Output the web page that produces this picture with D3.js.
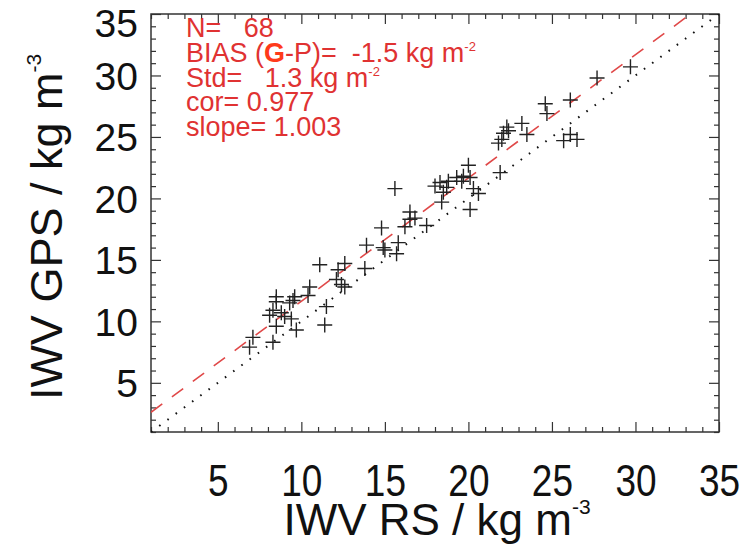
<!DOCTYPE html>
<html>
<head>
<meta charset="utf-8">
<script src="https://cdn.jsdelivr.net/npm/d3@7"></script>
<style>
  html, body { margin: 0; padding: 0; background: #fff; }
  svg { display: block; font-family: "Liberation Sans", Arial, Helvetica, sans-serif; }
</style>
</head>
<body>
<svg id="chart" width="747" height="552"></svg>
<script>
// IWV radiosonde (RS) vs GPS, kg m-3
const rsValues = [
  29.7, 27.7, 26.1, 24.6, 24.7, 23.2, 22.3, 22.1, 22.0, 21.8,
  23.5, 25.7, 26.5, 26.1, 21.9, 20.0, 20.1, 18.3, 18.8, 19.3,
  19.6, 20.1, 20.3, 18.5, 18.4, 20.6, 15.6, 16.5, 16.8, 17.5,
  16.2, 14.8, 14.9, 13.9, 15.8, 15.7, 15.0, 11.1, 12.6, 13.8,
  12.2, 12.1, 12.6, 10.5, 10.4, 8.5, 9.6, 9.5, 8.5, 11.5,
  8.3, 8.1, 9.0, 9.4, 8.5, 9.7, 11.4, 7.1, 6.9, 8.3,
  8.8, 9.3, 12.4, 19.7, 18.7, 22.4, 16.5, 18.0
];
const gpsValues = [
  30.7, 29.8, 28.0, 27.7, 26.9, 26.1, 25.8, 25.3, 24.8, 24.5,
  25.2, 24.7, 24.8, 25.2, 22.1, 22.7, 19.1, 21.3, 21.4, 21.7,
  21.4, 21.7, 20.8, 20.5, 19.7, 20.4, 20.8, 18.9, 18.4, 17.8,
  17.7, 17.6, 16.0, 16.2, 16.4, 15.5, 15.8, 14.6, 14.7, 14.3,
  14.2, 13.4, 12.8, 12.8, 12.1, 12.0, 12.0, 11.7, 11.6, 11.2,
  10.9, 10.5, 10.4, 10.2, 9.6, 9.3, 9.7, 8.7, 7.9, 8.3,
  10.7, 11.5, 13.0, 21.8, 20.9, 25.5, 18.3, 21.0
];
const majorTicks = [5, 10, 15, 20, 25, 30, 35];
const minorTicks = d3.range(1, 36).filter(v => v % 5 !== 0);
const axisDomain = [1, 35];

// Statistics printed in the upper-left corner
const statN = 68;
const statBias = -1.5;
const statStd = 1.3;
const statCor = 0.977;
const statSlope = 1.003;
const fitIntercept = 1.6;

const svg = d3.select("#chart");
const plotLeft = 151, plotRight = 719, plotTop = 14, plotBottom = 432;

const x = d3.scaleLinear().domain(axisDomain).range([plotLeft, plotRight]);
const y = d3.scaleLinear().domain(axisDomain).range([plotBottom, plotTop]);

svg.append("defs").append("clipPath").attr("id", "plotClip")
  .append("rect").attr("x", plotLeft).attr("y", plotTop)
  .attr("width", plotRight - plotLeft).attr("height", plotBottom - plotTop);

const tickColor = "#333";

function styleAxis(g) {
  g.select(".domain").remove();
  g.selectAll("line").attr("stroke", tickColor).attr("stroke-width", 1.2);
}

// minor ticks on all four sides, pointing inward
svg.append("g").attr("transform", `translate(0,${plotBottom})`)
  .call(d3.axisBottom(x).tickValues(minorTicks).tickSize(-5).tickFormat(""))
  .call(styleAxis);
svg.append("g").attr("transform", `translate(0,${plotTop})`)
  .call(d3.axisTop(x).tickValues(minorTicks).tickSize(-5).tickFormat(""))
  .call(styleAxis);
svg.append("g").attr("transform", `translate(${plotLeft},0)`)
  .call(d3.axisLeft(y).tickValues(minorTicks).tickSize(-5).tickFormat(""))
  .call(styleAxis);
svg.append("g").attr("transform", `translate(${plotRight},0)`)
  .call(d3.axisRight(y).tickValues(minorTicks).tickSize(-5).tickFormat(""))
  .call(styleAxis);

// major ticks with labels on bottom and left
const xAxis = svg.append("g").attr("transform", `translate(0,${plotBottom})`)
  .call(d3.axisBottom(x).tickValues(majorTicks).tickSize(-10).tickFormat(d3.format("d")))
  .call(styleAxis);
xAxis.selectAll("text")
  .attr("fill", "#111").attr("font-size", 37)
  .attr("dy", null).attr("y", null)
  .attr("transform", "translate(0,64) scale(1,1.18)");

const yAxis = svg.append("g").attr("transform", `translate(${plotLeft},0)`)
  .call(d3.axisLeft(y).tickValues(majorTicks).tickSize(-10).tickFormat(d3.format("d")))
  .call(styleAxis);
yAxis.selectAll("text")
  .attr("fill", "#111").attr("font-size", 39)
  .attr("x", -13)
  .attr("dy", "0.36em")
  // the top label is nudged down so it stays inside the page
  .attr("y", d => d === 35 ? 8 : 0);

svg.append("g").attr("transform", `translate(0,${plotTop})`)
  .call(d3.axisTop(x).tickValues(majorTicks).tickSize(-10).tickFormat(""))
  .call(styleAxis);
svg.append("g").attr("transform", `translate(${plotRight},0)`)
  .call(d3.axisRight(y).tickValues(majorTicks).tickSize(-10).tickFormat(""))
  .call(styleAxis);

// frame
svg.append("rect").attr("x", plotLeft).attr("y", plotTop)
  .attr("width", plotRight - plotLeft).attr("height", plotBottom - plotTop)
  .attr("fill", "none").attr("stroke", tickColor).attr("stroke-width", 1.5);

// 1:1 reference line (dotted) and fitted line (red dashed)
const plot = svg.append("g").attr("clip-path", "url(#plotClip)");
const line = d3.line().x(d => x(d[0])).y(d => y(d[1]));
plot.append("path")
  .datum(axisDomain.map(v => [v, v]))
  .attr("d", line).attr("fill", "none")
  .attr("stroke", "#111").attr("stroke-width", 2)
  .attr("stroke-dasharray", "1.6,8.6");
plot.append("path")
  .datum(axisDomain.map(v => [v, fitIntercept + statSlope * v]))
  .attr("d", line).attr("fill", "none")
  .attr("stroke", "#e04848").attr("stroke-width", 1.6)
  .attr("stroke-dasharray", "14,12");

// data crosses
const arm = 7.5;
plot.selectAll("path.pt")
  .data(rsValues.map((v, i) => [v, gpsValues[i]]))
  .join("path")
  .attr("class", "pt")
  .attr("d", d => `M${x(d[0]) - arm},${y(d[1])}H${x(d[0]) + arm}M${x(d[0])},${y(d[1]) - arm}V${y(d[1]) + arm}`)
  .attr("stroke", "#222").attr("stroke-width", 1.4).attr("fill", "none");

// statistics text (non-breaking spaces keep the column gaps)
const sp = n => "\u00a0".repeat(n);
const red = "#e03232";
const stats = svg.append("g").attr("fill", red).attr("font-size", 27);
const highlightBox = stats.append("rect").attr("fill", "#fff");
const tx = 186, ty0 = 37, dyLine = 24.8;
const fmt1 = v => d3.format(".1f")(v).replace("\u2212", "-");

stats.append("text").attr("x", tx).attr("y", ty0).text(`N=${sp(3)}${statN}`);

const biasLine = stats.append("text").attr("x", tx).attr("y", ty0 + dyLine);
biasLine.append("tspan").text("BIAS (");
biasLine.append("tspan").attr("font-weight", "bold").attr("fill", "#ff3a1a").text("G");
biasLine.append("tspan").text(`-P)=${sp(2)}${fmt1(statBias)} kg m`);
biasLine.append("tspan").attr("font-size", 13).attr("dy", -11).text("-2");

stats.append("text").attr("x", tx).attr("y", ty0 + 2 * dyLine)
  .call(t => {
    t.append("tspan").text(`Std=${sp(3)}${fmt1(statStd)} kg m`);
    t.append("tspan").attr("font-size", 13).attr("dy", -11).text("-2");
  });
stats.append("text").attr("x", tx).attr("y", ty0 + 3 * dyLine).text(`cor= ${d3.format(".3f")(statCor)}`);
stats.append("text").attr("x", tx).attr("y", ty0 + 4 * dyLine).text(`slope= ${d3.format(".3f")(statSlope)}`);

// white box behind the highlighted G
const gExt = biasLine.node().getExtentOfChar(6);
highlightBox
  .attr("x", gExt.x - 1).attr("y", gExt.y - 2)
  .attr("width", gExt.width + 2).attr("height", gExt.height + 6);

// axis titles
const xTitle = svg.append("text").attr("x", (plotLeft + plotRight) / 2 + 2).attr("y", 535)
  .attr("text-anchor", "middle").attr("font-size", 44).attr("fill", "#111");
xTitle.append("tspan").text("IWV RS / kg m");
xTitle.append("tspan").attr("font-size", 21).attr("dy", -21).text("-3");

const yTitle = svg.append("text")
  .attr("transform", `translate(62,${(plotTop + plotBottom) / 2 + 4}) rotate(-90)`)
  .attr("text-anchor", "middle").attr("font-size", 45).attr("fill", "#111");
yTitle.append("tspan").text("IWV GPS / kg m");
yTitle.append("tspan").attr("font-size", 21).attr("dy", -21).text("-3");
</script>
</body>
</html>
